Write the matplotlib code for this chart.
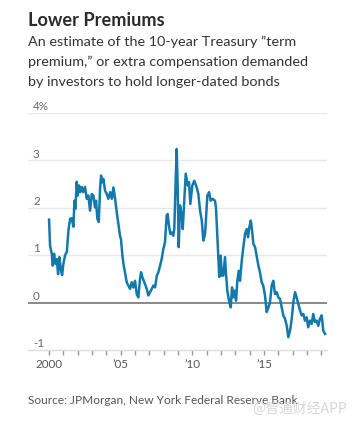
import matplotlib
matplotlib.use("Agg")
import matplotlib.pyplot as plt
import matplotlib.transforms as mtransforms

# decimal year and term premium (%)
years = [2000.00, 2000.07, 2000.19, 2000.26, 2000.35, 2000.44, 2000.54, 2000.63, 2000.72, 2000.82,
         2000.91, 2001.00, 2001.12, 2001.24, 2001.35, 2001.47, 2001.58, 2001.70, 2001.77, 2001.84,
         2001.93, 2002.00, 2002.09, 2002.18, 2002.28, 2002.39, 2002.51, 2002.63, 2002.74, 2002.86,
         2002.98, 2003.09, 2003.21, 2003.28, 2003.37, 2003.47, 2003.56, 2003.63, 2003.70, 2003.79,
         2003.91, 2004.03, 2004.14, 2004.26, 2004.38, 2004.49, 2004.61, 2004.72, 2004.84, 2004.95,
         2005.02, 2005.12, 2005.21, 2005.30, 2005.42, 2005.53, 2005.65, 2005.77, 2005.88, 2006.00,
         2006.12, 2006.23, 2006.35, 2006.42, 2006.51, 2006.65, 2006.82, 2006.93, 2007.05, 2007.17,
         2007.28, 2007.40, 2007.52, 2007.63, 2007.75, 2007.86, 2007.98, 2008.09, 2008.21, 2008.28,
         2008.37, 2008.46, 2008.56, 2008.67, 2008.74, 2008.84, 2008.91, 2008.98, 2009.05, 2009.14,
         2009.26, 2009.33, 2009.42, 2009.54, 2009.68, 2009.77, 2009.86, 2010.00, 2010.14, 2010.31,
         2010.42, 2010.54, 2010.66, 2010.77, 2010.89, 2010.96, 2011.05, 2011.17, 2011.28, 2011.42,
         2011.58, 2011.65, 2011.74, 2011.81, 2011.88, 2011.98, 2012.05, 2012.16, 2012.28, 2012.35,
         2012.44, 2012.58, 2012.68, 2012.77, 2012.86, 2012.96, 2013.05, 2013.14, 2013.24, 2013.33,
         2013.45, 2013.56, 2013.68, 2013.80, 2013.89, 2013.98, 2014.08, 2014.17, 2014.26, 2014.38,
         2014.61, 2014.72, 2014.84, 2014.95, 2015.07, 2015.19, 2015.31, 2015.42, 2015.54, 2015.65,
         2015.77, 2015.89, 2016.00, 2016.12, 2016.24, 2016.35, 2016.47, 2016.59, 2016.70, 2016.82,
         2016.94, 2017.05, 2017.17, 2017.28, 2017.40, 2017.52, 2017.63, 2017.75, 2017.86, 2017.98,
         2018.09, 2018.21, 2018.33, 2018.44, 2018.56, 2018.68, 2018.79, 2018.91, 2019.03, 2019.14,
         2019.26]
premium = [1.75, 1.20, 1.03, 0.78, 1.03, 0.82, 0.92, 0.60, 0.96, 0.71,
           0.58, 0.82, 1.00, 1.07, 1.52, 1.77, 1.78, 1.60, 2.15, 1.98,
           2.55, 2.26, 2.47, 2.33, 2.44, 2.33, 2.44, 2.19, 2.26, 1.94,
           2.29, 2.26, 2.01, 2.15, 1.77, 1.70, 2.40, 2.68, 2.54, 2.61,
           2.36, 2.29, 2.19, 2.33, 2.19, 2.43, 2.19, 1.91, 1.66, 1.41,
           1.34, 0.99, 0.78, 0.64, 0.43, 0.36, 0.29, 0.43, 0.32, 0.46,
           0.18, 0.11, 0.50, 0.64, 0.54, 0.43, 0.29, 0.15, 0.22, 0.29,
           0.36, 0.32, 0.57, 0.64, 0.78, 0.92, 1.13, 1.27, 1.84, 1.87,
           1.62, 1.45, 1.48, 1.41, 1.55, 2.61, 3.24, 2.40, 1.17, 2.05,
           1.84, 1.55, 2.05, 2.72, 2.47, 2.54, 2.08, 2.47, 2.57, 2.43,
           2.29, 1.94, 1.73, 1.31, 1.45, 1.80, 2.26, 2.33, 2.15, 2.19,
           2.15, 2.01, 1.45, 1.03, 0.54, 0.99, 0.57, 0.57, 0.96, 0.61,
           0.25, 0.01, -0.10, 0.32, 0.11, 0.25, 0.04, 0.46, 0.67, 0.46,
           0.89, 1.17, 1.45, 1.55, 1.38, 1.59, 1.73, 1.52, 1.24, 1.17,
           0.78, 0.64, 0.43, 0.36, 0.15, -0.20, -0.10, 0.01, 0.36, 0.46,
           0.18, 0.22, 0.11, 0.08, -0.10, -0.27, -0.34, -0.49, -0.73, -0.59,
           -0.34, 0.01, 0.22, 0.11, -0.03, -0.17, -0.27, -0.24, -0.38, -0.31,
           -0.52, -0.38, -0.45, -0.24, -0.41, -0.38, -0.49, -0.34, -0.27, -0.59,
           -0.66]

y_ticks = [-1, 0, 1, 2, 3, 4]
y_labels = ["-1", "0", "1", "2", "3", "4%"]
x_tick_years = list(range(2000, 2020))
x_label_years = [2000, 2005, 2010, 2015]
x_labels = ["2000", "\u201905", "\u201910", "\u201915"]

title = "Lower Premiums"
subtitle = ["An estimate of the 10-year Treasury \u201dterm",
            "premium,\u201d or extra compensation demanded",
            "by investors to hold longer-dated bonds"]
source = "Source: JPMorgan, New York Federal Reserve Bank"

plt.rcParams['font.family'] = ['Lato', 'DejaVu Sans']

W, H = 355, 427
fig = plt.figure(figsize=(W / 100, H / 100), dpi=100)
fig.patch.set_facecolor("white")

ax_left, ax_right, ax_top, ax_bottom = 28, 327, 114, 351
ax = fig.add_axes([ax_left / W, 1 - ax_bottom / H, (ax_right - ax_left) / W, (ax_bottom - ax_top) / H])
ax.set_xlim(1998.53, 2019.40)
ax.set_ylim(-1, 4)

for s in ["top", "right", "left"]:
    ax.spines[s].set_visible(False)
ax.spines["bottom"].set_color("#dcdcdc")
ax.spines["bottom"].set_linewidth(1.0)

for v in y_ticks[1:]:
    if v == 0:
        ax.axhline(v, color="#6a6a6a", lw=1.1, zorder=2)
    else:
        ax.axhline(v, color="#e8e8e8", lw=1.0, zorder=1)

ax.plot(years, premium, color="#1279ad", lw=1.8, zorder=3, solid_joinstyle="round", clip_on=False)

ax.set_yticks([])
ax.set_xticks(x_tick_years)
ax.set_xticklabels([])
ax.tick_params(axis="x", length=3.5, width=1.0, color="#9a9a9a", direction="out", pad=2)

trans = mtransforms.blended_transform_factory(ax.transAxes, ax.transData)
for v, lab in zip(y_ticks, y_labels):
    ax.text(5 / (ax_right - ax_left), v + 0.04, lab, transform=trans, ha="left", va="bottom",
            fontsize=8.4, color="#666666")

for yr, lab in zip(x_label_years, x_labels):
    ax.text(yr, -1.28, lab, ha="center", va="center", fontsize=8.4, color="#555555")

fig.text(28 / W, 1 - 20 / H, title, ha="left", va="center", fontsize=13.1, fontweight="bold", color="#2b2b2b")
for i, line in enumerate(subtitle):
    fig.text(28 / W, 1 - (41.5 + 20.5 * i) / H, line, ha="left", va="center", fontsize=10.4, color="#333333")

fig.text(28 / W, 1 - 401 / H, source, ha="left", va="center", fontsize=8.6, color="#555555")
fig.text(347 / W, 1 - 409 / H, "@智通财经APP", ha="right", va="center", fontsize=10,
         color="#d6d6d6", family=['Noto Sans CJK SC', 'DejaVu Sans'])

fig.savefig("out.png", dpi=100, facecolor="white")
